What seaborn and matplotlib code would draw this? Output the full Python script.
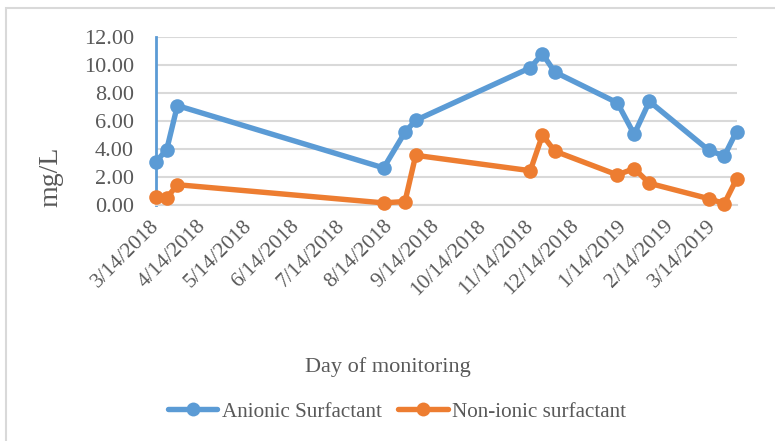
import numpy as np
import pandas as pd
import matplotlib
matplotlib.use("Agg")
import matplotlib.pyplot as plt
from matplotlib.lines import Line2D
from matplotlib.patches import Rectangle
import seaborn as sns

# ─── данные ──────────────────────────────────────────────────────────────────
dates = pd.to_datetime([
    "2018-03-14", "2018-03-21", "2018-03-28", "2018-08-10", "2018-08-24",
    "2018-08-31", "2018-11-14", "2018-11-22", "2018-11-30", "2019-01-10",
    "2019-01-21", "2019-01-31", "2019-03-11", "2019-03-21", "2019-03-29",
])
anionic = [3.10, 3.95, 7.10, 2.65, 5.20, 6.05, 9.80, 10.80, 9.50, 7.30,
           5.05, 7.40, 3.90, 3.50, 5.25]
nonionic = [0.60, 0.50, 1.45, 0.15, 0.25, 3.55, 2.45, 5.00, 3.85, 2.15,
            2.60, 1.55, 0.45, 0.10, 1.85]
series_names = ["Anionic Surfactant", "Non-ionic surfactant"]
tick_dates = pd.date_range("2018-03-14", periods=13, freq=pd.DateOffset(months=1))
tick_labels = [f"{d.month}/{d.day}/{d.year}" for d in tick_dates]
y_ticks = [0, 2, 4, 6, 8, 10, 12]

BLUE = "#5B9BD5"
ORANGE = "#ED7D31"
GRID = "#D9D9D9"
TEXT = "#595959"

df = pd.concat([
    pd.DataFrame({"date": dates, "value": anionic, "series": series_names[0]}),
    pd.DataFrame({"date": dates, "value": nonionic, "series": series_names[1]}),
])

sns.set_theme(style="white")
plt.rcParams["font.family"] = ["Liberation Serif", "DejaVu Serif"]
plt.rcParams["text.color"] = TEXT

W, H = 775, 441
fig = plt.figure(figsize=(W / 100, H / 100), dpi=100)
ax = fig.add_axes([156 / W, 1 - 205 / H, (736.5 - 156) / W, (205 - 37) / H])

palette = {series_names[0]: BLUE, series_names[1]: ORANGE}
sns.lineplot(data=df, x="date", y="value", hue="series", palette=palette,
             marker="o", markersize=10.5, markeredgewidth=0, linewidth=3.9,
             ax=ax, legend=False, zorder=3, clip_on=False)

ax.set_ylim(0, 12)
ax.set_xlim(dates[0], dates[-1])
ax.set_yticks(y_ticks)
ax.set_yticklabels([f"{v:.2f}" for v in y_ticks], fontsize=16, color=TEXT)
ax.set_xticks(tick_dates)
ax.set_xticklabels(tick_labels, fontsize=15.5, color=TEXT,
                   rotation=45, ha="right", va="center", rotation_mode="anchor")
ax.grid(True, axis="y", color=GRID, linewidth=1.5)
ax.set_axisbelow(True)

for side in ["top", "right"]:
    ax.spines[side].set_visible(False)
ax.spines["left"].set_color(BLUE)
ax.spines["left"].set_linewidth(2)
ax.spines["bottom"].set_color(GRID)
ax.spines["bottom"].set_linewidth(1.5)
ax.tick_params(axis="y", direction="in", length=4, width=2, color=BLUE, pad=16)
ax.tick_params(axis="x", direction="out", length=7, width=1.5, color=GRID, pad=6)
ax.set_xlabel("")
ax.set_ylabel("")

fig.text(51 / W, 1 - 177 / H, "mg/L", rotation=90, fontsize=20,
         ha="center", va="center", color=TEXT)
fig.text(388 / W, 1 - 367 / H, "Day of monitoring", fontsize=16,
         ha="center", va="center", color=TEXT)

handles = [Line2D([], [], color=c, linewidth=3.9, marker="o", markersize=10,
                  markeredgewidth=0) for c in (BLUE, ORANGE)]
fig.legend(handles, series_names, loc="center", ncol=2, frameon=False,
           bbox_to_anchor=(397 / W, 1 - 412 / H), fontsize=15.2,
           handlelength=2.35, handletextpad=0.2, columnspacing=0.8,
           labelcolor=TEXT)

# рамка диаграммы
fig.patches.append(Rectangle((6 / W, -0.1), 1.2, 1 + 0.1 - 8 / H,
                             transform=fig.transFigure, fill=False,
                             edgecolor=GRID, linewidth=1.5))

fig.savefig("out.png", dpi=100, facecolor="white")
